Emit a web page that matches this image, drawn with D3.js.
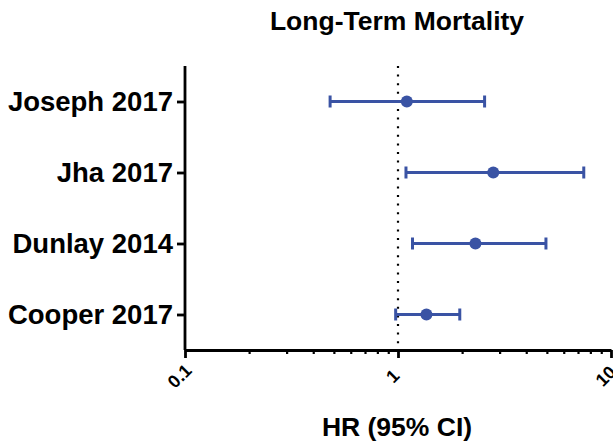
<!DOCTYPE html>
<html>
<head>
<meta charset="utf-8">
<script src="https://cdn.jsdelivr.net/npm/d3@7"></script>
<style>
  body { margin: 0; background: #fff; }
  text { font-family: "Liberation Sans", Arial, sans-serif; font-weight: bold; }
</style>
</head>
<body>
<script>
'use strict';

// study names, top to bottom
const studies = ["Joseph 2017", "Jha 2017", "Dunlay 2014", "Cooper 2017"];
// hazard ratios and 95% CI bounds
const hr = [1.10, 2.80, 2.31, 1.36];
const lower = [0.48, 1.09, 1.17, 0.975];
const upper = [2.55, 7.45, 4.95, 1.95];
const majorTicks = [0.1, 1, 10];

const blue = "#3A53A4";

let svg = d3.select('body').append('svg')
  .attr('width', 613)
  .attr('height', 441);

let x = d3.scaleLog()
  .domain([0.1, 10])
  .range([185, 611]);

let y = d3.scalePoint()
  .domain(studies)
  .range([66, 350])
  .padding(0.5);

// reference line at HR = 1
svg.append('line')
  .attr('x1', x(1)).attr('x2', x(1))
  .attr('y1', 66).attr('y2', 350)
  .attr('stroke', '#000')
  .attr('stroke-width', 2.2)
  .attr('stroke-dasharray', '2,6.6');

// minor ticks on the log axis
let minor = [];
for (let d = 0.1; d < 10; d *= 10) {
  for (let k = 2; k < 10; k++) minor.push(+(d * k).toFixed(2));
}
svg.append('g')
  .attr('transform', 'translate(0,350)')
  .call(d3.axisBottom(x).tickValues(minor).tickSize(4).tickFormat(''))
  .call(g => g.select('.domain').remove())
  .call(g => g.selectAll('line').attr('stroke-width', 2.2));

// x-axis with major ticks
let xAxis = svg.append('g')
  .attr('transform', 'translate(0,350)')
  .call(d3.axisBottom(x).tickValues(majorTicks).tickSize(8).tickSizeOuter(0)
    .tickFormat(d3.format('~g')));
xAxis.select('.domain').attr('stroke-width', 2.8);
xAxis.selectAll('line').attr('stroke-width', 2.8);
xAxis.selectAll('text')
  .style('font-size', '18px')
  .attr('fill', '#000')
  .attr('text-anchor', 'middle')
  .attr('x', 0)
  .attr('y', 0)
  .attr('dy', '0.35em')
  .attr('transform', 'translate(-6,26) rotate(-45)');

// y-axis with study names
let yAxis = svg.append('g')
  .attr('transform', 'translate(185,0)')
  .call(d3.axisLeft(y).tickSize(8).tickSizeOuter(0).tickPadding(4));
yAxis.select('.domain')
  .attr('d', 'M0,66V350')
  .attr('stroke-width', 2.8);
yAxis.selectAll('line').attr('stroke-width', 2.8);
yAxis.selectAll('text')
  .style('font-size', '27.5px')
  .attr('fill', '#000');

// confidence intervals
let rows = svg.append('g').selectAll('g')
  .data(studies)
  .enter()
  .append('g');

rows.append('line')
  .attr('x1', (d, i) => x(lower[i]))
  .attr('x2', (d, i) => x(upper[i]))
  .attr('y1', d => y(d)).attr('y2', d => y(d))
  .attr('stroke', blue)
  .attr('stroke-width', 3);

rows.append('line')
  .attr('x1', (d, i) => x(lower[i])).attr('x2', (d, i) => x(lower[i]))
  .attr('y1', d => y(d) - 6).attr('y2', d => y(d) + 6)
  .attr('stroke', blue)
  .attr('stroke-width', 3);

rows.append('line')
  .attr('x1', (d, i) => x(upper[i])).attr('x2', (d, i) => x(upper[i]))
  .attr('y1', d => y(d) - 6).attr('y2', d => y(d) + 6)
  .attr('stroke', blue)
  .attr('stroke-width', 3);

rows.append('circle')
  .attr('cx', (d, i) => x(hr[i]))
  .attr('cy', d => y(d))
  .attr('r', 6)
  .attr('fill', blue);

// title and axis label
svg.append('text')
  .attr('x', 397)
  .attr('y', 30)
  .attr('text-anchor', 'middle')
  .style('font-size', '26.5px')
  .text('Long-Term Mortality');

svg.append('text')
  .attr('x', 397)
  .attr('y', 436)
  .attr('text-anchor', 'middle')
  .style('font-size', '26.5px')
  .text('HR (95% CI)');
</script>
</body>
</html>
